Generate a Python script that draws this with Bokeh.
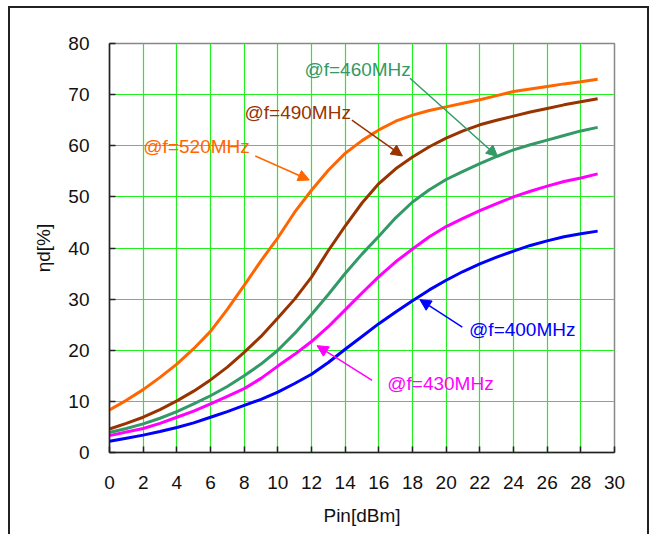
from bokeh.plotting import figure
from bokeh.layouts import column
from bokeh.models import Range1d, Label, Arrow, NormalHead
from bokeh.embed import file_html
from bokeh.resources import INLINE

# ---- data ----
pin_dbm = list(range(0, 30))

eff_400 = [2.2, 2.8, 3.4, 4.1, 4.9, 5.8, 6.9, 8.0, 9.2, 10.4, 11.8, 13.5, 15.3, 17.6, 20.2, 22.7,
           25.2, 27.5, 29.7, 31.8, 33.7, 35.4, 36.9, 38.2, 39.4, 40.5, 41.4, 42.2, 42.8, 43.3]
eff_430 = [3.3, 4.0, 4.7, 5.7, 6.9, 8.1, 9.5, 11.0, 12.5, 14.5, 16.9, 19.2, 21.7, 24.6, 27.9, 31.2,
           34.4, 37.3, 39.8, 42.2, 44.2, 45.8, 47.3, 48.7, 50.0, 51.1, 52.1, 53.0, 53.7, 54.5]
eff_460 = [3.9, 4.7, 5.6, 6.7, 8.0, 9.5, 11.1, 12.9, 15.0, 17.3, 20.0, 23.3, 27.0, 30.9, 35.0, 38.8,
           42.3, 45.9, 49.0, 51.4, 53.4, 55.0, 56.5, 57.9, 59.2, 60.2, 61.1, 62.0, 62.9, 63.6]
eff_490 = [4.6, 5.7, 6.9, 8.4, 10.1, 12.0, 14.2, 16.7, 19.6, 22.7, 26.3, 30.0, 34.3, 39.5, 44.3, 48.8,
           52.6, 55.5, 57.8, 59.8, 61.5, 62.9, 64.1, 65.0, 65.8, 66.6, 67.3, 68.0, 68.6, 69.2]
eff_520 = [8.3, 10.2, 12.3, 14.7, 17.3, 20.3, 23.7, 28.0, 32.7, 37.5, 42.0, 47.0, 51.3, 55.2, 58.5, 61.0,
           63.1, 64.8, 66.0, 66.9, 67.6, 68.3, 69.0, 69.8, 70.6, 71.1, 71.6, 72.1, 72.5, 73.0]

series_labels = ["@f=400MHz", "@f=430MHz", "@f=460MHz", "@f=490MHz", "@f=520MHz"]
x_ticks = list(range(0, 31, 2))
y_ticks = list(range(0, 81, 10))

colors = ["#0000FF", "#FF00FF", "#339966", "#993300", "#FF6600"]
FONT = "Liberation Sans"

p = figure(width=641, height=528, output_backend="svg", toolbar_location=None,
           x_range=Range1d(0, 30), y_range=Range1d(0, 80),
           min_border_left=99, min_border_top=35, min_border_right=37, min_border_bottom=84,
           x_axis_label="Pin[dBm]", y_axis_label="ηd[%]")

# outer chart frame: open at the bottom, as in the reference crop
p.styles = {"border-left": "2px solid #222222", "border-top": "2px solid #222222",
            "border-right": "2px solid #222222"}
p.margin = (6, 0, 0, 8)

p.background_fill_color = "white"
p.border_fill_color = "white"
p.outline_line_color = "#888888"
p.outline_line_width = 1.5

p.xaxis.ticker = x_ticks
p.yaxis.ticker = y_ticks
for ax in (p.xaxis[0], p.yaxis[0]):
    ax.major_tick_in = 6
    ax.major_tick_out = 0
    ax.minor_tick_in = 0
    ax.minor_tick_out = 0
    ax.axis_line_color = "#222222"
    ax.axis_line_width = 1.5
    ax.major_tick_line_color = "#222222"
    ax.major_tick_line_width = 1.5
    ax.major_label_text_font = FONT
    ax.major_label_text_font_size = "19px"
    ax.major_label_text_color = "#111111"
    ax.axis_label_text_font = FONT
    ax.axis_label_text_font_size = "19px"
    ax.axis_label_text_font_style = "normal"
    ax.axis_label_text_color = "#111111"
p.xaxis.major_label_standoff = 23
p.yaxis.major_label_standoff = 20
p.xaxis.axis_label_standoff = 13
p.yaxis.axis_label_standoff = 11

p.xgrid.ticker = x_ticks
p.ygrid.ticker = y_ticks
p.grid.grid_line_color = "#22EE22"
p.grid.grid_line_width = 1.2

all_series = [eff_400, eff_430, eff_460, eff_490, eff_520]
for ys, c in zip(all_series, colors):
    p.line(pin_dbm, ys, line_color=c, line_width=3)

# annotation text positions (data coords) and arrows (start -> tip)
label_pos = [(21.36, 24.1), (16.5, 13.4), (11.58, 75.0), (8.02, 66.5), (2.01, 59.8)]
arrow_pos = [(20.96, 24.5, 18.44, 29.9), (15.6, 14.1, 12.33, 20.9), (17.85, 73.2, 23.05, 57.9),
             (14.4, 65.0, 17.4, 58.0), (8.66, 58.0, 11.87, 53.3)]

for txt, c, (lx, ly), (xs, ys_, xe, ye) in zip(series_labels, colors, label_pos, arrow_pos):
    p.add_layout(Label(x=lx, y=ly, text=txt, text_color=c, text_font=FONT,
                       text_font_size="19px", text_align="left", text_baseline="middle"))
    p.add_layout(Arrow(x_start=xs, y_start=ys_, x_end=xe, y_end=ye, line_color=c, line_width=1.5,
                       end=NormalHead(size=11, fill_color=c, line_color=c, line_width=1)))

layout = column(p)
open("out.html", "w").write(file_html(layout, INLINE))
